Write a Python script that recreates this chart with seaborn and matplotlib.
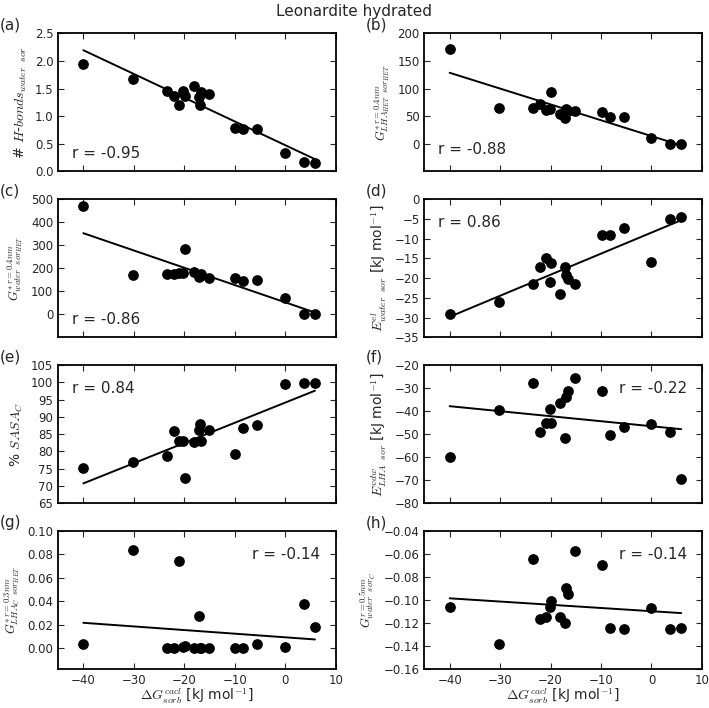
import numpy as np
import matplotlib
matplotlib.use('Agg')
import matplotlib.pyplot as plt
import seaborn as sns

# shared x: calculated sorption free energy, kJ/mol
dG_sorb = [-40.0, -30.2, -23.5, -22.1, -21.0, -20.2, -19.9, -18.1, -17.1,
           -16.9, -16.6, -15.1, -9.9, -8.3, -5.5, 0.0, 3.7, 5.9]

hbonds = [1.95, 1.68, 1.45, 1.37, 1.20, 1.45, 1.37, 1.55, 1.35,
          1.20, 1.43, 1.40, 0.78, 0.77, 0.77, 0.33, 0.18, 0.145]
g_lha_het = [172, 65, 64, 72, 61, 63, 94, 54, 47,
             63, 60, 59, 58, 49, 48, 11, 0, 0]
g_water_het = [470, 172, 173, 176, 178, 180, 284, 185, 160,
               165, 173, 159, 159, 146, 148, 71, 0, 0]
e_el_water = [-29.0, -26.0, -21.5, -17.3, -14.9, -20.9, -16.2, -24.1, -17.2,
              -19.3, -20.2, -21.6, -9.0, -9.0, -7.4, -16.0, -5.0, -4.4]
sasa_c = [75.1, 76.9, 78.6, 85.9, 83.1, 83.1, 72.2, 82.8, 86.1,
          87.9, 82.9, 86.1, 79.1, 86.7, 87.6, 99.5, 99.9, 99.9]
e_vdw_lha = [-60.0, -39.6, -27.9, -49.3, -45.3, -38.9, -45.3, -36.6, -51.7,
             -33.7, -31.1, -25.8, -31.3, -50.6, -47.0, -45.7, -49.3, -69.6]
g_lha_c = [0.004, 0.0835, 0.0003, 0.0003, 0.0747, 0.0009, 0.002, 0.0003, 0.0278,
           0.0001, 0.0003, 0.0004, 0.0006, 0.0004, 0.0034, 0.0009, 0.0378, 0.0179]
g_water_c = [-0.1058, -0.1381, -0.0644, -0.1168, -0.1151, -0.1058, -0.1009, -0.1151, -0.1197,
             -0.0893, -0.0951, -0.0576, -0.0694, -0.1243, -0.1255, -0.1066, -0.1255, -0.1240]

series = [hbonds, g_lha_het, g_water_het, e_el_water, sasa_c, e_vdw_lha, g_lha_c, g_water_c]
panel_tags = ['(a)', '(b)', '(c)', '(d)', '(e)', '(f)', '(g)', '(h)']
r_labels = ['r = -0.95', 'r = -0.88', 'r = -0.86', 'r = 0.86',
            'r = 0.84', 'r = -0.22', 'r = -0.14', 'r = -0.14']
y_labels = [
    r'# $H$-$bonds_{water\ \ sor}$',
    r'$G^{*\,r=0.4nm}_{LHA_{HET}\ \ sor_{HET}}$',
    r'$G^{*\,r=0.4nm}_{water\ \ sor_{HET}}$',
    r'$E^{el}_{water\ \ sor}$ [kJ mol$^{-1}$]',
    r'% $SASA_C$',
    r'$E^{vdw}_{LHA\ \ sor}$ [kJ mol$^{-1}$]',
    r'$G^{*\,r=0.3nm}_{LHA_C\ \ sor_{HET}}$',
    r'$G^{r=0.5nm}_{water\ \ sor_C}$',
]
x_label = r'$\Delta G^{cacl}_{sorb}$ [kJ mol$^{-1}$]'
y_limits = [(0, 2.5), (-50, 200), (-100, 500), (-35, 0),
            (65, 105), (-80, -20), (-0.0175, 0.10), (-0.16, -0.04)]
y_ticks = [np.arange(0, 2.51, 0.5), np.arange(0, 201, 50), np.arange(0, 501, 100),
           np.arange(-35, 0.1, 5), np.arange(65, 105.1, 5), np.arange(-80, -19, 10),
           np.arange(0, 0.101, 0.02), np.arange(-0.16, -0.039, 0.02)]
r_pos = [(0.05, 0.13), (0.05, 0.16), (0.05, 0.13), (0.05, 0.83),
         (0.05, 0.83), (0.70, 0.83), (0.70, 0.83), (0.70, 0.83)]
y_fmt = ['%.1f', '%d', '%d', '%d', '%d', '%d', '%.2f', '%.2f']

sns.set_style('ticks')
plt.rcParams.update({
    'font.family': ['DejaVu Sans'],
    'mathtext.fontset': 'cm',
    'xtick.direction': 'in', 'ytick.direction': 'in',
    'xtick.top': True, 'ytick.right': True,
    'xtick.major.size': 4, 'ytick.major.size': 4,
    'axes.linewidth': 1.3, 'axes.edgecolor': 'black',
    'xtick.labelsize': 8.5, 'ytick.labelsize': 8.5,
})

fig, axes = plt.subplots(4, 2, figsize=(7.09, 7.08), dpi=100, sharex=True)
fig.subplots_adjust(left=0.082, right=0.99, top=0.953, bottom=0.055,
                    hspace=0.2, wspace=0.32)

for i, ax in enumerate(axes.flat):
    sns.regplot(x=dG_sorb, y=series[i], ax=ax, ci=None, color='black',
                scatter_kws=dict(s=45, alpha=1, edgecolors='black'),
                line_kws=dict(lw=1.4))
    ax.set_xlim(-45, 10)
    ax.set_xticks(np.arange(-40, 11, 10))
    ax.set_ylim(*y_limits[i])
    ax.set_yticks(y_ticks[i])
    ax.set_yticklabels([(y_fmt[i] % v).replace('-', '\u2212') for v in y_ticks[i]])
    ax.set_ylabel(y_labels[i], fontsize=10 if i in (0, 3, 4, 5) else 9)
    ax.text(*r_pos[i], r_labels[i], transform=ax.transAxes, fontsize=11, va='center')
    ax.text(-0.21, 1.06, panel_tags[i], transform=ax.transAxes, fontsize=11,
            ha='left', va='center')
    if i >= 6:
        ax.set_xlabel(x_label, fontsize=10, labelpad=0)

fig.suptitle('Leonardite hydrated', fontsize=11, y=0.995)
fig.savefig('out.png', dpi=100)
